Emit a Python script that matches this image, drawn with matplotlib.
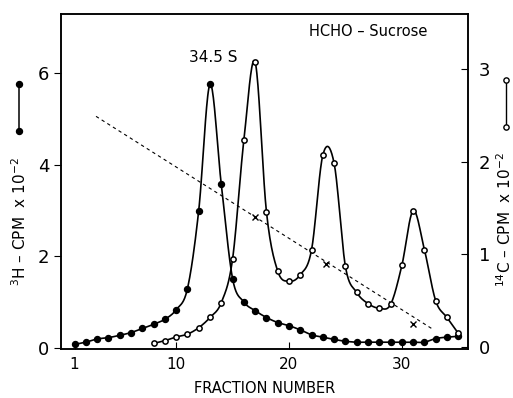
import numpy as np
import matplotlib
matplotlib.use('Agg')
import matplotlib.pyplot as plt
from matplotlib.lines import Line2D

# 3H (filled circles, left axis, x 10^-2)
h3_frac = list(range(1, 36))
h3_cpm = [0.07, 0.12, 0.19, 0.22, 0.27, 0.33, 0.42, 0.51, 0.62, 0.83,
          1.29, 3.00, 5.76, 3.57, 1.51, 1.00, 0.81, 0.66, 0.55, 0.48,
          0.39, 0.28, 0.23, 0.18, 0.14, 0.12, 0.12, 0.12, 0.12, 0.12,
          0.12, 0.12, 0.20, 0.23, 0.25]

# 14C (open circles, right axis, x 10^-2)
c14_frac = list(range(8, 36))
c14_cpm = [0.04, 0.07, 0.11, 0.14, 0.21, 0.32, 0.48, 0.95, 2.23, 3.07,
           1.46, 0.82, 0.71, 0.78, 1.05, 2.07, 1.98, 0.87, 0.59, 0.47,
           0.42, 0.46, 0.88, 1.47, 1.05, 0.50, 0.32, 0.15]

# sucrose gradient (crosses + dashed line, left axis scale)
grad_frac = [17, 23.3, 31]
grad_val = [2.85, 1.83, 0.52]
grad_line_x = [2.9, 32.7]
grad_line_y = [5.06, 0.41]


def smooth(x, y, n=20):
    # Catmull-Rom spline through the measured points, only for drawing the curve
    x = np.asarray(x, float)
    y = np.asarray(y, float)
    px = np.concatenate([[2 * x[0] - x[1]], x, [2 * x[-1] - x[-2]]])
    py = np.concatenate([[2 * y[0] - y[1]], y, [2 * y[-1] - y[-2]]])
    t = np.linspace(0, 1, n, endpoint=False)
    xs, ys = [], []
    for i in range(1, len(px) - 2):
        for p, out in ((px, xs), (py, ys)):
            p0, p1, p2, p3 = p[i - 1], p[i], p[i + 1], p[i + 2]
            out.extend(0.5 * ((2 * p1) + (-p0 + p2) * t
                              + (2 * p0 - 5 * p1 + 4 * p2 - p3) * t ** 2
                              + (-p0 + 3 * p1 - 3 * p2 + p3) * t ** 3))
    xs.append(x[-1])
    ys.append(y[-1])
    return np.array(xs), np.array(ys)


plt.rcParams['font.family'] = 'DejaVu Sans'

fig = plt.figure(figsize=(5.13, 3.98), dpi=100)
ax = fig.add_axes([0.119, 0.123, 0.793, 0.842])
ax2 = ax.twinx()

# 3H curve
sx, sy = smooth(h3_frac, h3_cpm)
ax.plot(sx, sy, color='black', lw=1.2)
ax.plot(h3_frac, h3_cpm, 'o', color='black', ms=4.3)

# gradient
ax.plot(grad_line_x, grad_line_y, '--', color='black', lw=0.8, dashes=(3, 3))
ax.plot(grad_frac, grad_val, 'x', color='black', ms=4, mew=1)

# 14C curve
sx, sy = smooth(c14_frac, c14_cpm)
ax2.plot(sx, sy, color='black', lw=1.2)
ax2.plot(c14_frac, c14_cpm, 'o', mfc='white', mec='black', mew=1.1, ms=3.8)

ax.set_xlim(-0.2, 35.85)
ax.set_ylim(-0.03, 7.3)
ax2.set_ylim(-0.02, 3.59)

ax.set_xticks([1, 10, 20, 30])
ax.set_yticks([0, 2, 4, 6])
ax2.set_yticks([0, 1, 2, 3])
ax.tick_params(axis='x', direction='in', length=5, labelsize=11, pad=6)
ax.tick_params(axis='y', direction='out', length=5, labelsize=13)
ax2.tick_params(axis='y', direction='in', length=5, labelsize=13, pad=8)
for a in (ax, ax2):
    for s in a.spines.values():
        s.set_linewidth(1.1)

ax.set_xlabel('FRACTION NUMBER', fontsize=10.5, labelpad=6)

ax.text(0.754, 0.949, 'HCHO – Sucrose', transform=ax.transAxes,
        fontsize=10.5, ha='center', va='center')
ax.text(13.3, 6.35, '34.5 S', fontsize=11, ha='center', va='center')

# vertical axis labels with symbol keys
fig.text(20 / 513, 1 - 222 / 398, r'$^3$H – CPM  x 10$^{-2}$', rotation=90,
         ha='center', va='center', fontsize=11)
fig.text(505 / 513, 1 - 220 / 398, r'$^{14}$C – CPM  x 10$^{-2}$', rotation=90,
         ha='center', va='center', fontsize=11)
fig.add_artist(Line2D([19 / 513, 19 / 513], [1 - 84 / 398, 1 - 131 / 398],
                      color='black', lw=1.1, marker='o', ms=4.3,
                      transform=fig.transFigure))
fig.add_artist(Line2D([506 / 513, 506 / 513], [1 - 80 / 398, 1 - 127 / 398],
                      color='black', lw=1, marker='o', mfc='white', mew=1,
                      ms=3.8, transform=fig.transFigure))

fig.savefig('out.png', dpi=100)
